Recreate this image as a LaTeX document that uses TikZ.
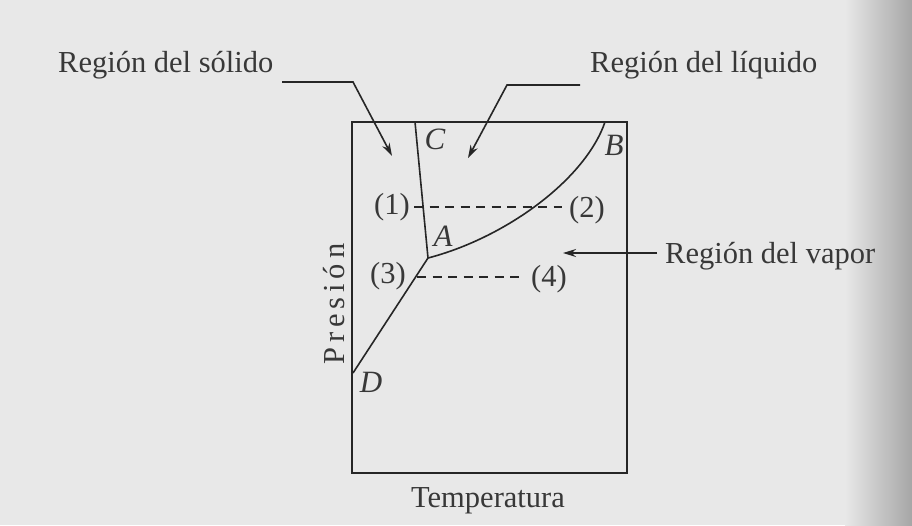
\documentclass[tikz,border=0pt]{standalone}
\usepackage{fontspec}
\setmainfont{Liberation Serif}
\newfontfamily\spacedfont[LetterSpace=16]{Liberation Serif}
\usetikzlibrary{arrows.meta}
\begin{document}
\begin{tikzpicture}[x=1pt,y=-1pt,
  ln/.style={line width=1.6pt,draw=black!85},
  arr/.style={ln,-{Stealth[length=13pt,width=8pt]}},
  lbl/.style={font=\fontsize{30.5}{34}\selectfont,text=black!78,inner sep=0pt},
  pt/.style={font=\fontsize{31}{34}\selectfont\itshape,text=black!78,inner sep=0pt},
  dsh/.style={line width=1.5pt,draw=black!85,dash pattern=on 9pt off 6.5pt}]
\useasboundingbox (0,0) rectangle (912,525);
\fill[gray!18] (0,0) rectangle (912,525);
\shade[left color=gray!18,right color=gray!70] (845,0) rectangle (912,525);
% box
\draw[ln] (352,122) rectangle (627,473);
\coordinate (Ctop) at (415,122);
\coordinate (A) at (428,258);
\coordinate (Btop) at (605,122);
\coordinate (D) at (353,373);
\draw[ln] (Ctop) -- (A);
\draw[ln] (A) .. controls (505,238) and (585,180) .. (Btop);
\draw[ln] (A) -- (D);
% dashed lines
\coordinate (p1) at (414,207);
\coordinate (p2) at (562,207);
\coordinate (p3) at (417,277);
\coordinate (p4) at (524,277);
\draw[dsh] (p1) -- (p2);
\draw[dsh] (p3) -- (p4);
\node[lbl,anchor=east] (n1) at (410,207) {(1)};
\node[lbl,anchor=west] (n2) at (569,210) {(2)};
\node[lbl,anchor=east] (n3) at (406,276) {(3)};
\node[lbl,anchor=west] (n4) at (531,279) {(4)};
% point labels
\node[pt] (lC) at (435,139) {C};
\node[pt] (lB) at (614,145) {B};
\node[pt] (lA) at (443,236) {A};
\node[pt] (lD) at (371,382) {D};
% region labels
\node[lbl,anchor=base west] (sol) at (58,72) {Región del sólido};
\node[lbl,anchor=base west] (liq) at (590,72) {Región del líquido};
\node[lbl,anchor=base west] (vap) at (665,263) {Región del vapor};
\node[lbl,rotate=90,font=\fontsize{30.5}{34}\spacedfont] (pres) at (334,304) {Presión};
\node[lbl,anchor=base] (temp) at (488,507) {Temperatura};
% arrows
\coordinate (s0) at (282,82);
\coordinate (s1) at (353,82);
\coordinate (stip) at (392,156);
\draw[arr] (s0) -- (s1) -- (stip);
\coordinate (l0) at (580,85);
\coordinate (l1) at (507,85);
\coordinate (ltip) at (468,158);
\draw[arr] (l0) -- (l1) -- (ltip);
\coordinate (v0) at (657,253);
\coordinate (vtip) at (563,253);
\draw[arr] (v0) -- (vtip);
\end{tikzpicture}
\end{document}
